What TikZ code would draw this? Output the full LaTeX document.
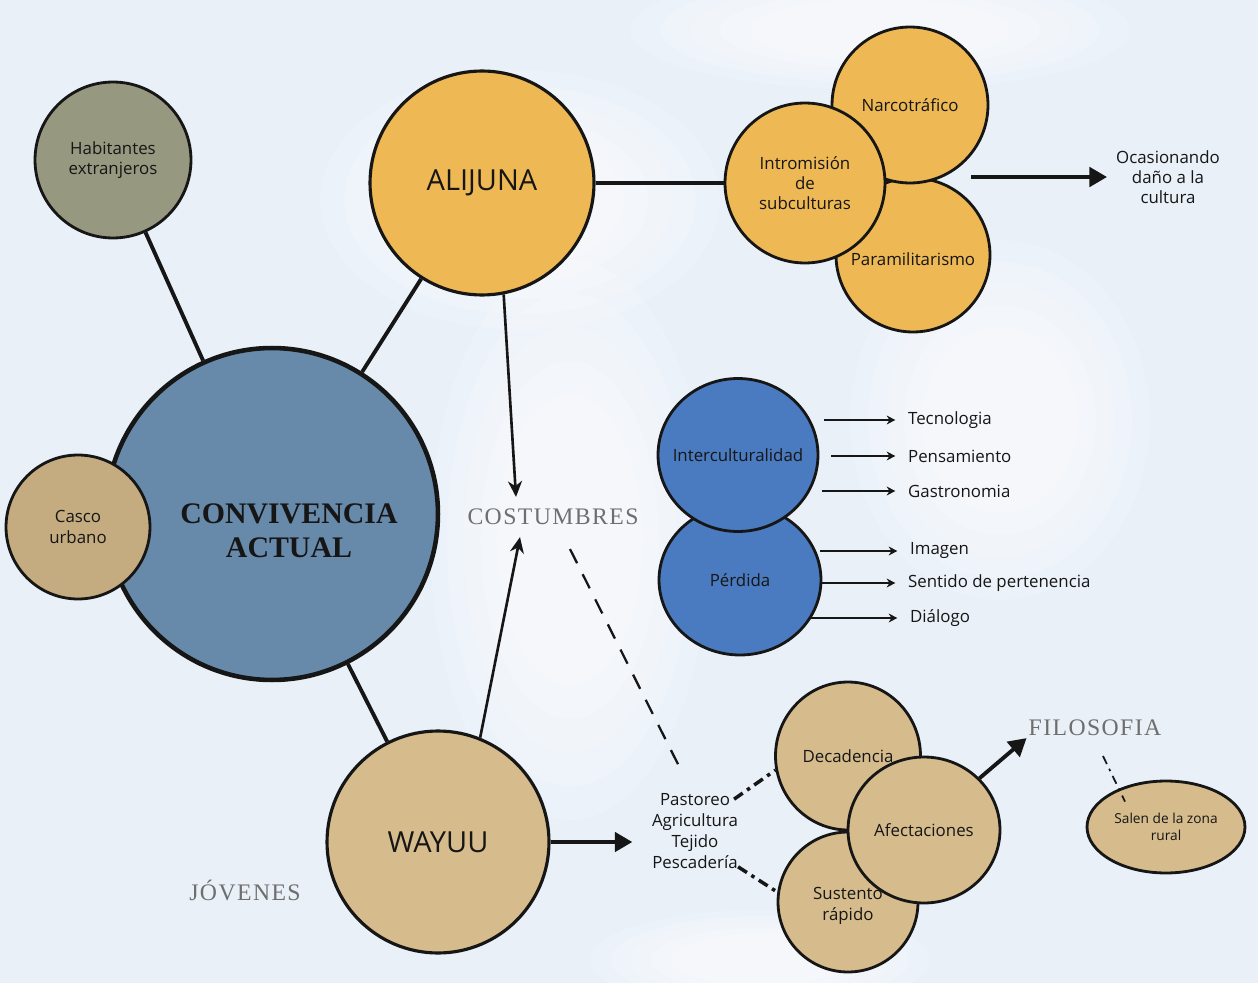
\documentclass[tikz,border=0pt]{standalone}
\usepackage{fontspec}
\setmainfont{Open Sans}
\newfontfamily\titleface{Liberation Serif}
\newfontfamily\fadedface[LetterSpace=6]{Liberation Serif}
\usetikzlibrary{arrows.meta,positioning,calc,shapes.geometric}
\definecolor{paleSky}{RGB}{233,240,248}
\definecolor{inkBlack}{RGB}{22,22,22}
\definecolor{oliveGray}{RGB}{150,152,128}
\definecolor{alijunaGold}{RGB}{238,184,84}
\definecolor{steelBlue}{RGB}{104,138,170}
\definecolor{sandTan}{RGB}{196,172,128}
\definecolor{wayuuTan}{RGB}{214,188,140}
\definecolor{cobaltBlue}{RGB}{74,122,192}
\definecolor{fadedGray}{RGB}{110,110,110}
\pgfdeclarelayer{paper}
\pgfdeclarelayer{links}
\pgfsetlayers{paper,links,main}
\tikzset{
  topic node/.style={circle,draw=inkBlack,line width=1.6pt,inner sep=0pt,align=center,text=inkBlack,font=\fontsize{9.6}{11.5}\selectfont},
  big topic/.style={topic node,line width=1.8pt,font=\fontsize{16.5}{19}\selectfont},
  oval node/.style={ellipse,draw=inkBlack,line width=1.6pt,inner xsep=-8pt,inner ysep=0pt,align=center,text=inkBlack,font=\fontsize{9.6}{11.5}\selectfont},
  plain text/.style={align=center,text=inkBlack,font=\fontsize{9.6}{11.5}\selectfont,inner sep=1pt},
  faded text/.style={text=fadedGray,font=\fadedface\fontsize{13.5}{15}\selectfont,inner sep=1pt},
  wash/.style={white,opacity=0.18},
  link/.style={draw=inkBlack,line width=2.2pt},
  heavy arrow/.style={draw=inkBlack,line width=2.2pt,-{Triangle[length=10pt,width=11pt]}},
  light arrow/.style={draw=inkBlack,line width=1.5pt,-{Stealth[length=9pt,width=8pt]}},
  list arrow/.style={draw=inkBlack,line width=0.8pt,-{Stealth[length=5pt,width=5pt]},shorten >=6pt},
  dashdot link/.style={draw=inkBlack,line width=2pt,dash pattern=on 6pt off 3pt on 2pt off 3pt},
  thin dashdot/.style={draw=inkBlack,line width=1pt,dash pattern=on 5pt off 3pt on 1.5pt off 3pt},
  dashed link/.style={draw=inkBlack,line width=1.3pt,dash pattern=on 9pt off 7pt}
}
\begin{document}
\begin{tikzpicture}[x=0.02cm,y=-0.02cm]
  \useasboundingbox (0,0) rectangle (1258,983);
  \begin{pgfonlayer}{paper}
    \fill[paleSky] (0,0) rectangle (1258,983);
    % soft white washes
    \foreach \s in {1,0.88,0.76,0.64,0.52} {
      \fill[wash] (570,540) ellipse ({\s*2.8cm} and {\s*5.6cm});
      \fill[wash] (520,200) ellipse ({\s*4cm} and {\s*2.6cm});
      \fill[wash] (1000,420) ellipse ({\s*3cm} and {\s*3.6cm});
      \fill[wash] (880,30) ellipse ({\s*5cm} and {\s*1.2cm});
      \fill[wash] (760,960) ellipse ({\s*3.4cm} and {\s*1cm});
    }
  \end{pgfonlayer}

  % left cluster
  \node[topic node,fill=oliveGray,minimum size=3.12cm] (habitantes) at (113,160) {Habitantes\\extranjeros};
  \node[big topic,fill=alijunaGold,minimum size=4.48cm] (alijuna) at (482,183) {ALIJUNA};
  \node[circle,draw=inkBlack,line width=2.6pt,fill=steelBlue,minimum size=6.64cm] (convivencia) at (272,514) {};
  \node[text=inkBlack,align=center,font=\titleface\bfseries\fontsize{17}{19.5}\selectfont] (convtitle) at (289,531) {CONVIVENCIA\\ACTUAL};
  \node[topic node,fill=sandTan,minimum size=2.88cm] (casco) at (78,527) {Casco\\urbano};
  \node[big topic,fill=wayuuTan,minimum size=4.44cm] (wayuu) at (438,842) {WAYUU};
  \node[faded text] (costumbres) at (553,517) {COSTUMBRES};
  \node[faded text] (jovenes) at (245,890) {JÓVENES};

  % alijuna cluster
  \node[topic node,fill=alijunaGold,minimum size=3.08cm] (paramil) at (913,255) {\\[1pt]Paramilitarismo};
  \node[topic node,fill=alijunaGold,minimum size=3.12cm] (narco) at (910,105) {Narcotráfico};
  \node[topic node,fill=alijunaGold,minimum size=3.2cm] (intro) at (805,183) {Intromisión\\de\\subculturas};
  \node[plain text] (ocasionando) at (1168,177) {Ocasionando\\daño a la\\cultura};

  % blue pair and lists
  \node[oval node,fill=cobaltBlue,minimum width=3.24cm,minimum height=3.0cm] (perdida) at (740,580) {Pérdida};
  \node[oval node,fill=cobaltBlue,minimum width=3.2cm,minimum height=3.06cm] (inter) at (738,455) {Interculturalidad};
  \node[plain text,anchor=west] (tecnologia) at (906,420) {Tecnologia};
  \node[plain text,anchor=west] (pensamiento) at (906,456) {Pensamiento};
  \node[plain text,anchor=west] (gastronomia) at (906,491) {Gastronomia};
  \node[plain text,anchor=west] (imagen) at (908,551) {Imagen};
  \node[plain text,anchor=west] (sentido) at (906,583) {Sentido de pertenencia};
  \node[plain text,anchor=west] (dialogo) at (908,618) {Diálogo};

  % wayuu cluster
  \node[plain text,font=\fontsize{9.6}{12}\selectfont] (pastoreo) at (695,831) {Pastoreo\\Agricultura\\Tejido\\Pescadería};
  \node[oval node,fill=wayuuTan,minimum width=2.8cm,minimum height=2.8cm] (sustento) at (848,902) {\\Sustento\\rápido};
  \node[oval node,fill=wayuuTan,minimum width=2.9cm,minimum height=2.96cm] (decadencia) at (848,756) {Decadencia};
  \node[oval node,fill=wayuuTan,minimum width=3.04cm,minimum height=2.92cm] (afectaciones) at (924,830) {Afectaciones};
  \node[faded text] (filosofia) at (1095,728) {FILOSOFIA};
  \node[oval node,fill=wayuuTan,minimum width=3.16cm,minimum height=1.84cm,font=\fontsize{7.8}{9.4}\selectfont] (salen) at (1166,827) {Salen de la zona\\rural};

  \begin{pgfonlayer}{links}
    \draw[link] (habitantes) -- (convivencia);
    \draw[link] (alijuna) -- (convivencia);
    \draw[link] (convivencia) -- (wayuu);
    \draw[link] (alijuna) -- (intro);
    \draw[dashed link] ($(costumbres.south)+(17,22)$) -- ($(pastoreo.north)+(-15,-23)$);
  \end{pgfonlayer}
  \draw[light arrow] (alijuna.-79) -- ($(costumbres.north)+(-37,-10)$);
  \draw[light arrow] (wayuu.68) -- ($(costumbres.south)+(-33,10)$);
  \draw[heavy arrow] (wayuu.east) -- ([xshift=-10pt]pastoreo.west |- wayuu.east);
  \draw[heavy arrow] ($(intro.east)+(85,-6)$) -- ([xshift=-4pt]ocasionando.west);
  \draw[heavy arrow] (afectaciones.43) -- (filosofia.south west);
  \draw[dashdot link] ($(pastoreo.north east)+(-6,8)$) -- (decadencia.191);
  \draw[dashdot link] ($(pastoreo.south east)+(-2,-4)$) -- (sustento.172);
  \draw[thin dashdot] ($(filosofia.south)+(8,18)$) -- ($(salen.north)+(-41,22)$);
  \foreach \lbl/\src/\dx in {tecnologia/inter/5,pensamiento/inter/12,gastronomia/inter/3,imagen/perdida/-2,sentido/perdida/0,dialogo/perdida/-12}
    \draw[list arrow] ($(\src.east |- \lbl.west)+(\dx,0)$) -- (\lbl.west);
\end{tikzpicture}
\end{document}
